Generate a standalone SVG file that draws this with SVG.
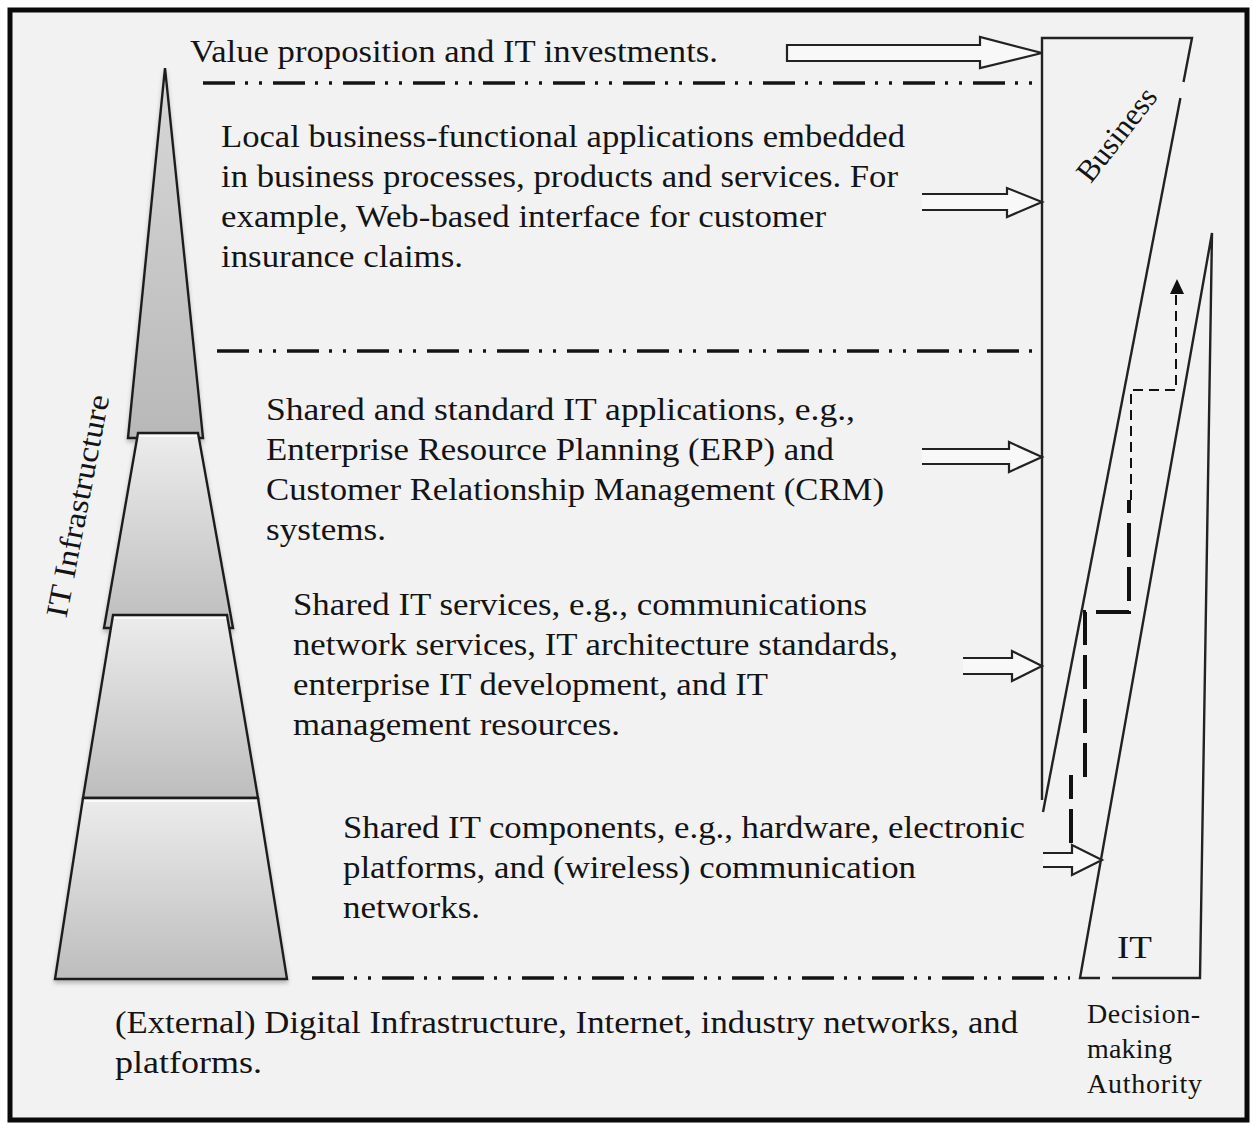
<svg xmlns="http://www.w3.org/2000/svg" width="1253" height="1125" viewBox="0 0 1253 1125">
  <defs>
    <style>
      .t { font-family: "Liberation Serif", "Times New Roman", serif; font-size: 31px; fill: #141414; }
      .small { font-size: 28px; }
      .dd { fill: none; stroke: #141414; stroke-width: 3.5; stroke-dasharray: 32 10 3 11 3 11; }
      .arrow { fill: #f8f8f8; stroke: #222; stroke-width: 2.2; stroke-linejoin: miter; }
      .edge { fill: none; stroke: #222; stroke-width: 2.4; }
      .piece { stroke: #1e1e1e; stroke-width: 2.4; stroke-linejoin: miter; }
      .hl { stroke: #ffffff; stroke-width: 1.5; }
    </style>
    <linearGradient id="tier" x1="0" y1="0" x2="0" y2="1">
      <stop offset="0" stop-color="#ececec"/>
      <stop offset="1" stop-color="#bdbdbd"/>
    </linearGradient>
    <linearGradient id="tierTop" x1="0" y1="0" x2="0" y2="1">
      <stop offset="0" stop-color="#d8d8d8"/>
      <stop offset="1" stop-color="#b8b8b8"/>
    </linearGradient>
    <filter id="soft" x="-10%" y="-5%" width="120%" height="115%">
      <feDropShadow dx="0" dy="3" stdDeviation="2" flood-color="#000" flood-opacity="0.25"/>
    </filter>
  </defs>

  <!-- page and frame -->
  <rect x="0" y="0" width="1253" height="1125" fill="#ffffff"/>
  <rect x="10" y="10" width="1237" height="1110" fill="#f2f2f2" stroke="#0a0a0a" stroke-width="5"/>

  <!-- IT infrastructure pyramid, stacked tiers -->
  <g id="pyramid" filter="url(#soft)">
    <polygon class="piece" points="165,68 203,438 128,438" fill="url(#tierTop)"/>
    <polygon class="piece" points="138,433 198,433 233,628 104,628" fill="url(#tier)"/>
    <line class="hl" x1="139" y1="436" x2="197" y2="436"/>
    <polygon class="piece" points="113,615 227,615 258,798 83,798" fill="url(#tier)"/>
    <line class="hl" x1="114" y1="618" x2="226" y2="618"/>
    <polygon class="piece" points="83,798 258,798 287,979 55,979" fill="url(#tier)"/>
    <line class="hl" x1="85" y1="801" x2="256" y2="801"/>
  </g>

  <g id="pyramid-label">
    <text class="t" transform="translate(78,506) rotate(-79)" text-anchor="middle" y="10" font-size="31" textLength="226" lengthAdjust="spacingAndGlyphs">IT Infrastructure</text>
  </g>

  <!-- layer separators -->
  <g id="separators">
    <line class="dd" x1="203" y1="83" x2="780" y2="83" stroke-width="2.5" stroke="#333"/>
    <line class="dd" x1="780" y1="83" x2="1036" y2="83" stroke-dashoffset="17"/>
    <line class="dd" x1="217" y1="351" x2="1036" y2="351"/>
    <line class="dd" x1="312" y1="978" x2="1070" y2="978"/>
  </g>

  <!-- layer descriptions -->
  <g id="layer-value">
    <text class="t" x="190" y="62" textLength="528" lengthAdjust="spacingAndGlyphs">Value proposition and IT investments.</text>
  </g>
  <g id="layer-local">
    <text class="t" x="221" y="147" textLength="684" lengthAdjust="spacingAndGlyphs">Local business-functional applications embedded</text>
    <text class="t" x="221" y="187" textLength="677" lengthAdjust="spacingAndGlyphs">in business processes, products and services. For</text>
    <text class="t" x="221" y="227" textLength="605" lengthAdjust="spacingAndGlyphs">example, Web-based interface for customer</text>
    <text class="t" x="221" y="267" textLength="242" lengthAdjust="spacingAndGlyphs">insurance claims.</text>
  </g>
  <g id="layer-shared-apps">
    <text class="t" x="266" y="420" textLength="589" lengthAdjust="spacingAndGlyphs">Shared and standard IT applications, e.g.,</text>
    <text class="t" x="266" y="460" textLength="568" lengthAdjust="spacingAndGlyphs">Enterprise Resource Planning (ERP) and</text>
    <text class="t" x="266" y="500" textLength="618" lengthAdjust="spacingAndGlyphs">Customer Relationship Management (CRM)</text>
    <text class="t" x="266" y="540" textLength="120" lengthAdjust="spacingAndGlyphs">systems.</text>
  </g>
  <g id="layer-shared-services">
    <text class="t" x="293" y="615" textLength="574" lengthAdjust="spacingAndGlyphs">Shared IT services, e.g., communications</text>
    <text class="t" x="293" y="655" textLength="605" lengthAdjust="spacingAndGlyphs">network services, IT architecture standards,</text>
    <text class="t" x="293" y="695" textLength="475" lengthAdjust="spacingAndGlyphs">enterprise IT development, and IT</text>
    <text class="t" x="293" y="735" textLength="327" lengthAdjust="spacingAndGlyphs">management resources.</text>
  </g>
  <g id="layer-components">
    <text class="t" x="343" y="838" textLength="682" lengthAdjust="spacingAndGlyphs">Shared IT components, e.g., hardware, electronic</text>
    <text class="t" x="343" y="878" textLength="573" lengthAdjust="spacingAndGlyphs">platforms, and (wireless) communication</text>
    <text class="t" x="343" y="918" textLength="137" lengthAdjust="spacingAndGlyphs">networks.</text>
  </g>
  <g id="layer-external">
    <text class="t" x="115" y="1033" textLength="903" lengthAdjust="spacingAndGlyphs">(External) Digital Infrastructure, Internet, industry networks, and</text>
    <text class="t" x="115" y="1073" textLength="147" lengthAdjust="spacingAndGlyphs">platforms.</text>
  </g>

  <!-- decision-making authority wedges -->
  <g id="business-wedge">
    <polyline class="edge" points="1042,800 1042,38 1192,38 1183.5,82"/>
    <line class="edge" x1="1180.4" y1="98" x2="1043" y2="812"/>
    <text class="t" transform="translate(1116,134) rotate(-52)" text-anchor="middle" y="11" font-size="34">Business</text>
  </g>
  <g id="it-wedge">
    <polyline class="edge" points="1100,978 1080,978 1212,233 1200,978 1112,978" stroke="#333" stroke-width="2.2"/>
    <text class="t" x="1117" y="958" font-size="32" textLength="35" lengthAdjust="spacingAndGlyphs">IT</text>
  </g>
  <g id="authority-label">
    <text class="t small" x="1087" y="1023" textLength="113" lengthAdjust="spacing">Decision-</text>
    <text class="t small" x="1087" y="1058" textLength="85" lengthAdjust="spacing">making</text>
    <text class="t small" x="1087" y="1093" textLength="115" lengthAdjust="spacing">Authority</text>
  </g>

  <!-- connectors: block arrows into the wedges and the stepped shift -->
  <g id="connectors">
    <path class="arrow" d="M787,45 H980 V37 L1042,53 L980,68 V61 H787 Z"/>
    <path class="arrow" d="M922,194 H1007 V188 L1042,202 L1007,217 V210 H922"/>
    <path class="arrow" d="M922,449 H1009 V442 L1042,457 L1009,472 V464 H922"/>
    <path class="arrow" d="M963,658 H1012 V651 L1042,666 L1012,681 V674 H963"/>
    <path class="arrow" d="M1043,853 H1072 V845 L1102,860 L1072,875 V867 H1043"/>

    <path d="M1071,843 V775 M1085,777 V612 H1129 V500" fill="none" stroke="#111" stroke-width="4" stroke-dasharray="34 10"/>
    <path d="M1131,500 V390 H1176 V294" fill="none" stroke="#111" stroke-width="2" stroke-dasharray="10 6"/>
    <polygon points="1177,279 1170,294 1184,294" fill="#111"/>
  </g>
</svg>
